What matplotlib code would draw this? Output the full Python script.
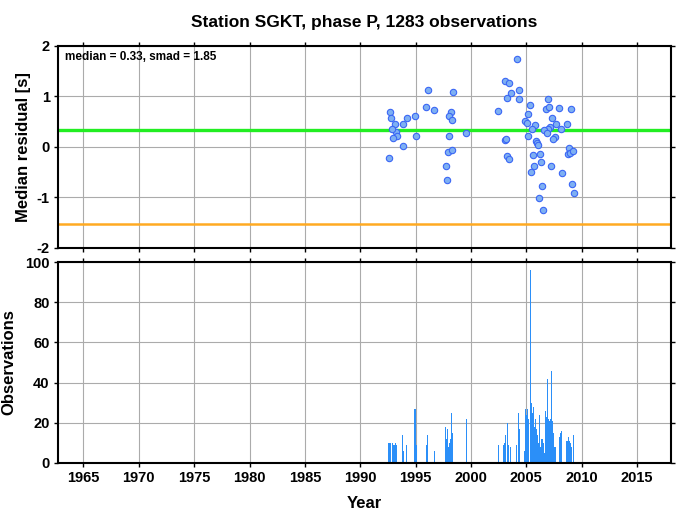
import matplotlib
matplotlib.use("Agg")
import matplotlib.pyplot as plt

plt.rcParams['font.family'] = ['Liberation Sans', 'DejaVu Sans']
plt.rcParams['font.weight'] = 'bold'
plt.rcParams['axes.unicode_minus'] = False

# station residuals (decimal year, median residual in s)
resYear = [1992.65, 1992.74, 1993.1, 1993.2, 1992.9, 1993.3, 1993.0, 1992.6, 1993.85, 1993.9,
           1994.2, 1994.97, 1995.0, 1995.97, 1996.15, 1996.7, 1998.16, 1998.04, 1998.3, 1998.4,
           1998.0, 1997.9, 1998.25, 1997.77, 1997.8, 1999.6, 2002.46, 2003.05, 2003.2, 2003.3,
           2003.45, 2003.08, 2003.45, 2003.27, 2003.6, 2004.15, 2004.3, 2004.37, 2005.3, 2005.15,
           2004.9, 2005.06, 2005.8, 2005.54, 2005.2, 2005.9, 2006.0, 2006.05, 2005.63, 2006.24,
           2006.3, 2005.7, 2005.4, 2006.4, 2006.15, 2006.5, 2006.93, 2006.75, 2007.08, 2007.3,
           2007.68, 2007.14, 2007.0, 2006.6, 2006.84, 2007.6, 2007.44, 2007.26, 2008.0, 2008.1,
           2008.2, 2008.67, 2009.0, 2008.83, 2008.77, 2008.95, 2009.2, 2009.1, 2009.27]
resValue = [0.70, 0.57, 0.46, 0.30, 0.36, 0.22, 0.18, -0.21, 0.01, 0.46,
            0.57, 0.62, 0.22, 0.80, 1.13, 0.73, 0.70, 0.62, 0.54, 1.09,
            0.22, -0.11, -0.07, -0.37, -0.66, 0.28, 0.71, 0.13, 0.15, -0.18,
            -0.24, 1.30, 1.27, 0.97, 1.07, 1.75, 1.13, 0.95, 0.83, 0.66,
            0.52, 0.47, 0.44, 0.35, 0.21, 0.12, 0.07, 0.03, -0.17, -0.15,
            -0.29, -0.38, -0.50, -0.78, -1.01, -1.26, 0.95, 0.75, 0.79, 0.57,
            0.46, 0.40, 0.36, 0.34, 0.28, 0.20, 0.15, -0.37, 0.78, 0.35,
            -0.51, 0.46, 0.75, -0.03, -0.15, -0.12, -0.09, -0.73, -0.91]

medianRes = 0.33
smad = 1.85

# observation counts per time bin
obsYear = [1992.6, 1992.68, 1992.76, 1992.95, 1993.05, 1993.15, 1993.25, 1993.83, 1993.9, 1994.2,
           1994.95, 1995.05, 1995.96, 1996.1, 1996.7, 1997.72, 1997.8, 1997.88, 1997.96, 1998.05,
           1998.12, 1998.28, 1998.36, 1999.6, 2002.46, 2002.94, 2003.0, 2003.08, 2003.16, 2003.28,
           2003.34, 2003.42, 2003.6, 2004.1, 2004.3, 2004.37, 2004.88, 2004.97, 2005.05, 2005.15,
           2005.24, 2005.36, 2005.44, 2005.52, 2005.6, 2005.68, 2005.76, 2005.84, 2005.92, 2006.0,
           2006.08, 2006.16, 2006.24, 2006.32, 2006.4, 2006.48, 2006.56, 2006.64, 2006.71, 2006.78,
           2006.86, 2006.94, 2007.02, 2007.1, 2007.18, 2007.26, 2007.34, 2007.42, 2007.5, 2007.6,
           2007.98, 2008.06, 2008.2, 2008.68, 2008.76, 2008.84, 2008.92, 2009.0, 2009.1, 2009.25]
obsCount = [10, 8, 10, 10, 9, 10, 9, 14, 6, 9,
            27, 9, 9, 14, 6, 18, 12, 17, 8, 10,
            12, 25, 15, 22, 9, 9, 10, 10, 14, 20,
            15, 9, 8, 9, 25, 17, 6, 27, 24, 27,
            22, 96, 30, 25, 22, 28, 18, 22, 17, 14,
            10, 24, 8, 6, 12, 12, 10, 5, 26, 23,
            20, 42, 22, 21, 22, 46, 21, 6, 15, 8,
            13, 15, 16, 11, 8, 13, 11, 10, 8, 14]

xTicks = [1965, 1970, 1975, 1980, 1985, 1990, 1995, 2000, 2005, 2010, 2015]

fig = plt.figure(figsize=(6.77, 5.11), dpi=100)
ax1 = fig.add_axes([0.0857, 0.515, 0.905, 0.395])
ax2 = fig.add_axes([0.0857, 0.094, 0.905, 0.393])

gridColor = '#ababab'
for ax in (ax1, ax2):
    ax.set_xlim(1962.7, 2018.05)
    ax.set_xticks(xTicks)
    ax.grid(True, color=gridColor, linewidth=0.8)
    ax.set_axisbelow(True)
    for s in ax.spines.values():
        s.set_linewidth(1.5)
    ax.tick_params(direction='out', length=3, width=1, top=True, right=True,
                   labelsize=10.5, pad=3)

# top panel: residuals
ax1.axhline(medianRes, color='#22ee22', linewidth=2.4, zorder=2)
ax1.axhline(medianRes - smad, color='#ffaa22', linewidth=1.8, zorder=2)
ax1.scatter(resYear, resValue, s=21, facecolor='#7eb0f2', edgecolor='#3a66f5',
            linewidth=0.8, zorder=3)
ax1.set_ylim(-2, 2)
ax1.set_yticks([-2, -1, 0, 1, 2])
ax1.tick_params(labelbottom=False)
ax1.set_ylabel("Median residual [s]", fontsize=12, fontweight='bold', labelpad=4)
ax1.text(0.011, 0.975, "median = %.2f, smad = %.2f" % (medianRes, smad),
         transform=ax1.transAxes, ha='left', va='top', fontsize=8.5, fontweight='bold')
ax1.set_title("Station SGKT, phase P, 1283 observations", fontsize=12.5,
              fontweight='bold', pad=14)

# bottom panel: observation counts
ax2.bar(obsYear, obsCount, width=0.1, color='#2b8ff8', linewidth=0, zorder=2)
ax2.set_ylim(0, 100)
ax2.set_yticks([0, 20, 40, 60, 80, 100])
ax2.set_ylabel("Observations", fontsize=12, fontweight='bold', labelpad=6)
ax2.set_xlabel("Year", fontsize=12, fontweight='bold', labelpad=8)

fig.savefig("out.png", dpi=100)
